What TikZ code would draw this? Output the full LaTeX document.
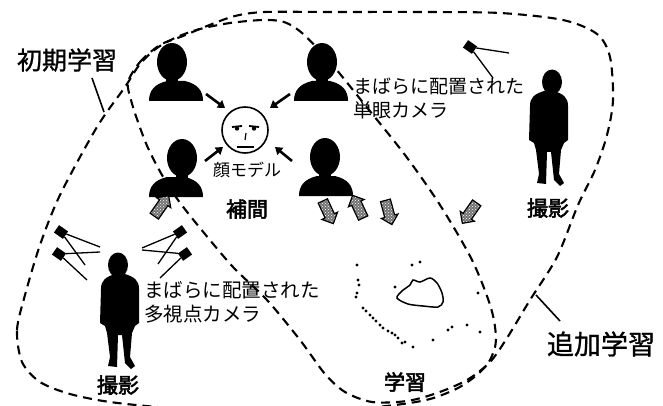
\documentclass[tikz,border=0pt]{standalone}
\usepackage{fontspec}
\newfontfamily\jp{Noto Sans CJK JP}
\newfontfamily\jpm[FakeBold=1]{Noto Sans CJK JP}
\newfontfamily\jpb[FakeBold=2.5]{Noto Sans CJK JP}
\usetikzlibrary{shapes.arrows,arrows.meta,patterns,calc}

\tikzset{
  region/.style={line width=2.1pt, dash pattern=on 9pt off 6pt},
  pointer/.style={line width=1.6pt},
  camera/.style={rectangle, fill=black, minimum width=11pt, minimum height=9pt, inner sep=0pt},
  camline/.style={line width=1.3pt},
  flow/.style={single arrow, draw=black, line width=1.2pt,
    preaction={fill=black!55}, pattern=crosshatch dots, pattern color=white,
    minimum height=25pt, inner xsep=0pt, inner ysep=4.5pt, single arrow head extend=3.5pt},
  toface/.style={line width=2.6pt, -{Triangle[length=7pt,width=9pt]}},
  lab/.style={inner sep=0pt, font=\jp},
  step label/.style={inner sep=0pt, font=\jpb\fontsize{21}{21}\selectfont},
  pics/bust/.style={code={
    \fill (-27,57) .. controls (-27,46) and (-21,40) .. (-9,37) -- (9,37)
          .. controls (21,40) and (27,46) .. (27,57) -- cycle;
    \fill (#1,18) ellipse [x radius=15, y radius=19];
    \fill (#1-6,30) rectangle (#1+6,40);
  }},
  pics/person/.style={code={
    \fill (#1,12) ellipse [x radius=10, y radius=12.5];
    \fill (-5,21) .. controls (-14,24) and (-19,27) .. (-19,36) -- (-20,70) -- (-15,73)
          -- (-13,80) -- (-10,104) -- (-12,113) -- (-3,114) -- (-2,82) -- (2,82)
          -- (5,110) -- (11,116) -- (15,113) -- (10,104) -- (12,80) -- (15,73)
          -- (19,70) -- (19,36) .. controls (19,27) and (14,24) .. (5,21) -- cycle;
  }}
}

\begin{document}
\begin{tikzpicture}[x=1pt,y=-1pt]
  \useasboundingbox (0,0) rectangle (663,406);
  \fill[white] (0,0) rectangle (663,406);

  % initial-learning region (left loop)
  \draw[region] plot[smooth cycle] coordinates {
    (22,362) (17,330) (25,295) (40,245) (60,195) (97,127) (125,87) (140,64)
    (157,48) (177,37) (200,29) (230,23) (263,20) (284,22) (302,33) (330,62)
    (365,105) (405,155) (440,205) (472,260) (491,308) (496,340) (490,360)
    (478,374) (458,388) (430,399) (395,405) (330,411) (250,412) (170,408)
    (110,402) (70,394) (40,382)};

  % additional-learning region (right loop)
  \draw[region] plot[smooth cycle] coordinates {
    (128,82) (140,62) (160,45) (183,36) (207,26) (235,16) (265,12) (333,12)
    (420,12) (500,13) (563,20) (597,34) (610,57) (613,100) (607,135) (595,170)
    (578,205) (557,257) (530,300) (507,338) (490,362) (467,380) (437,393)
    (407,401) (372,402) (345,392) (325,374) (300,340) (267,300) (233,267)
    (200,228) (178,200) (162,175) (148,148) (138,122) (131,100)};

  % region labels and their pointers
  \node[lab, font=\jpm\fontsize{25}{25}\selectfont] (initial) at (67,60) {初期学習};
  \coordinate (initialTip) at (104,112);
  \coordinate (initialFoot) at (92,78);
  \draw[pointer] (initialFoot) -- (initialTip);

  \node[lab, font=\jpm\fontsize{27}{27}\selectfont] (extra) at (601,344) {追加学習};
  \coordinate (extraTip) at (536,295);
  \coordinate (extraFoot) at (560,321);
  \draw[pointer] (extraTip) -- (extraFoot);

  % four captured views around the face model
  \pic at (176,44) {bust=-4};
  \pic at (321,44) {bust=1};
  \pic at (176,140) {bust=6};
  \pic at (326,139) {bust=-1};

  % face model
  \node[circle, draw, line width=1.6pt, minimum size=46pt, inner sep=0pt] (face) at (245,130) {};
  \draw[line width=1.8pt] (232,127) -- (242,126);
  \draw[line width=1.8pt] (249,126) -- (259,127);
  \fill (237,128.5) circle (2.2);
  \fill (254,128.5) circle (2.2);
  \draw[line width=1.2pt] (246,133) -- (245,140);
  \draw[line width=1.6pt] (237,147) -- (254,147);
  \node[lab, font=\jp\fontsize{17}{17}\selectfont] (facelab) at (247,170) {顔モデル};

  % arrows from the views into the model
  \coordinate (vTL) at (206,94);   \coordinate (fTL) at (225,108);
  \coordinate (vTR) at (290,94);   \coordinate (fTR) at (270,108);
  \coordinate (vBL) at (205,161);  \coordinate (fBL) at (223,147);
  \coordinate (vBR) at (292,161);  \coordinate (fBR) at (275,147);
  \draw[toface] (vTL) -- (fTL);
  \draw[toface] (vTR) -- (fTR);
  \draw[toface] (vBL) -- (fBL);
  \draw[toface] (vBR) -- (fBR);

  % step labels
  \node[step label] (interp) at (247,209) {補間};
  \node[step label] (shootR) at (548,208) {撮影};
  \node[step label] (shootL) at (118,385) {撮影};
  \node[step label] (learn) at (405,382) {学習};

  % data-flow arrows
  \node[flow, rotate=55] (f1) at (160,208) {};
  \node[flow, rotate=-65] (f2) at (327,210) {};
  \node[flow, rotate=115] (f3) at (359,209) {};
  \node[flow, rotate=-75] (f4) at (388,210) {};
  \node[flow, rotate=-125] (f5) at (471,211) {};

  % subjects
  \pic at (549,70) {person=3};
  \pic at (120,253) {person=-2};

  % single camera
  \node[camera, rotate=-35] (camS) at (470,47) {};
  \coordinate (camSa) at (509,53);
  \coordinate (camSb) at (493,78);
  \draw[camline] (camS) -- (camSa);
  \draw[camline] (camS) -- (camSb);
  \node[lab, font=\jp\fontsize{19}{24}\selectfont, align=left, anchor=west] (monoText) at (353,98)
    {まばらに配置された\\単眼カメラ};

  % multi-view cameras
  \node[camera, rotate=-35] (cam1) at (61,232) {};
  \node[camera, rotate=-35] (cam2) at (59,254) {};
  \node[camera, rotate=35] (cam3) at (180,232) {};
  \node[camera, rotate=35] (cam4) at (185,254) {};
  \coordinate (c1a) at (100,247); \coordinate (c1b) at (85,265);
  \coordinate (c2a) at (100,252); \coordinate (c2b) at (87,280);
  \coordinate (c3a) at (142,248); \coordinate (c3b) at (158,264);
  \coordinate (c4a) at (142,250); \coordinate (c4b) at (160,278);
  \draw[camline] (cam1) -- (c1a);  \draw[camline] (cam1) -- (c1b);
  \draw[camline] (cam2) -- (c2a);  \draw[camline] (cam2) -- (c2b);
  \draw[camline] (cam3) -- (c3a);  \draw[camline] (cam3) -- (c3b);
  \draw[camline] (cam4) -- (c4a);  \draw[camline] (cam4) -- (c4b);
  \node[lab, font=\jp\fontsize{19.5}{24}\selectfont, align=left, anchor=west] (multiText) at (144,302)
    {まばらに配置された\\多視点カメラ};

  % learned point cloud
  \draw[line width=1.5pt] plot[smooth cycle] coordinates {
    (397,298) (402,291) (410,285) (413,280) (420,282) (430,278) (437,283)
    (442,293) (443,302) (438,307) (423,306) (408,304)};
  \foreach \p in {(357,265),(358,280),(359,285),(357,293),(356,297),(363,308),(366,311),
                  (373,318),(376,321),(380,325),(383,328),(388,331),(395,335),(398,338),
                  (402,343),(413,347),(412,265),(395,287),(433,340),(448,330),(452,327),
                  (467,325),(480,332),(478,293),(420,262),(405,342),(370,315),(392,333)}
    \fill \p circle (1.7);
\end{tikzpicture}
\end{document}
